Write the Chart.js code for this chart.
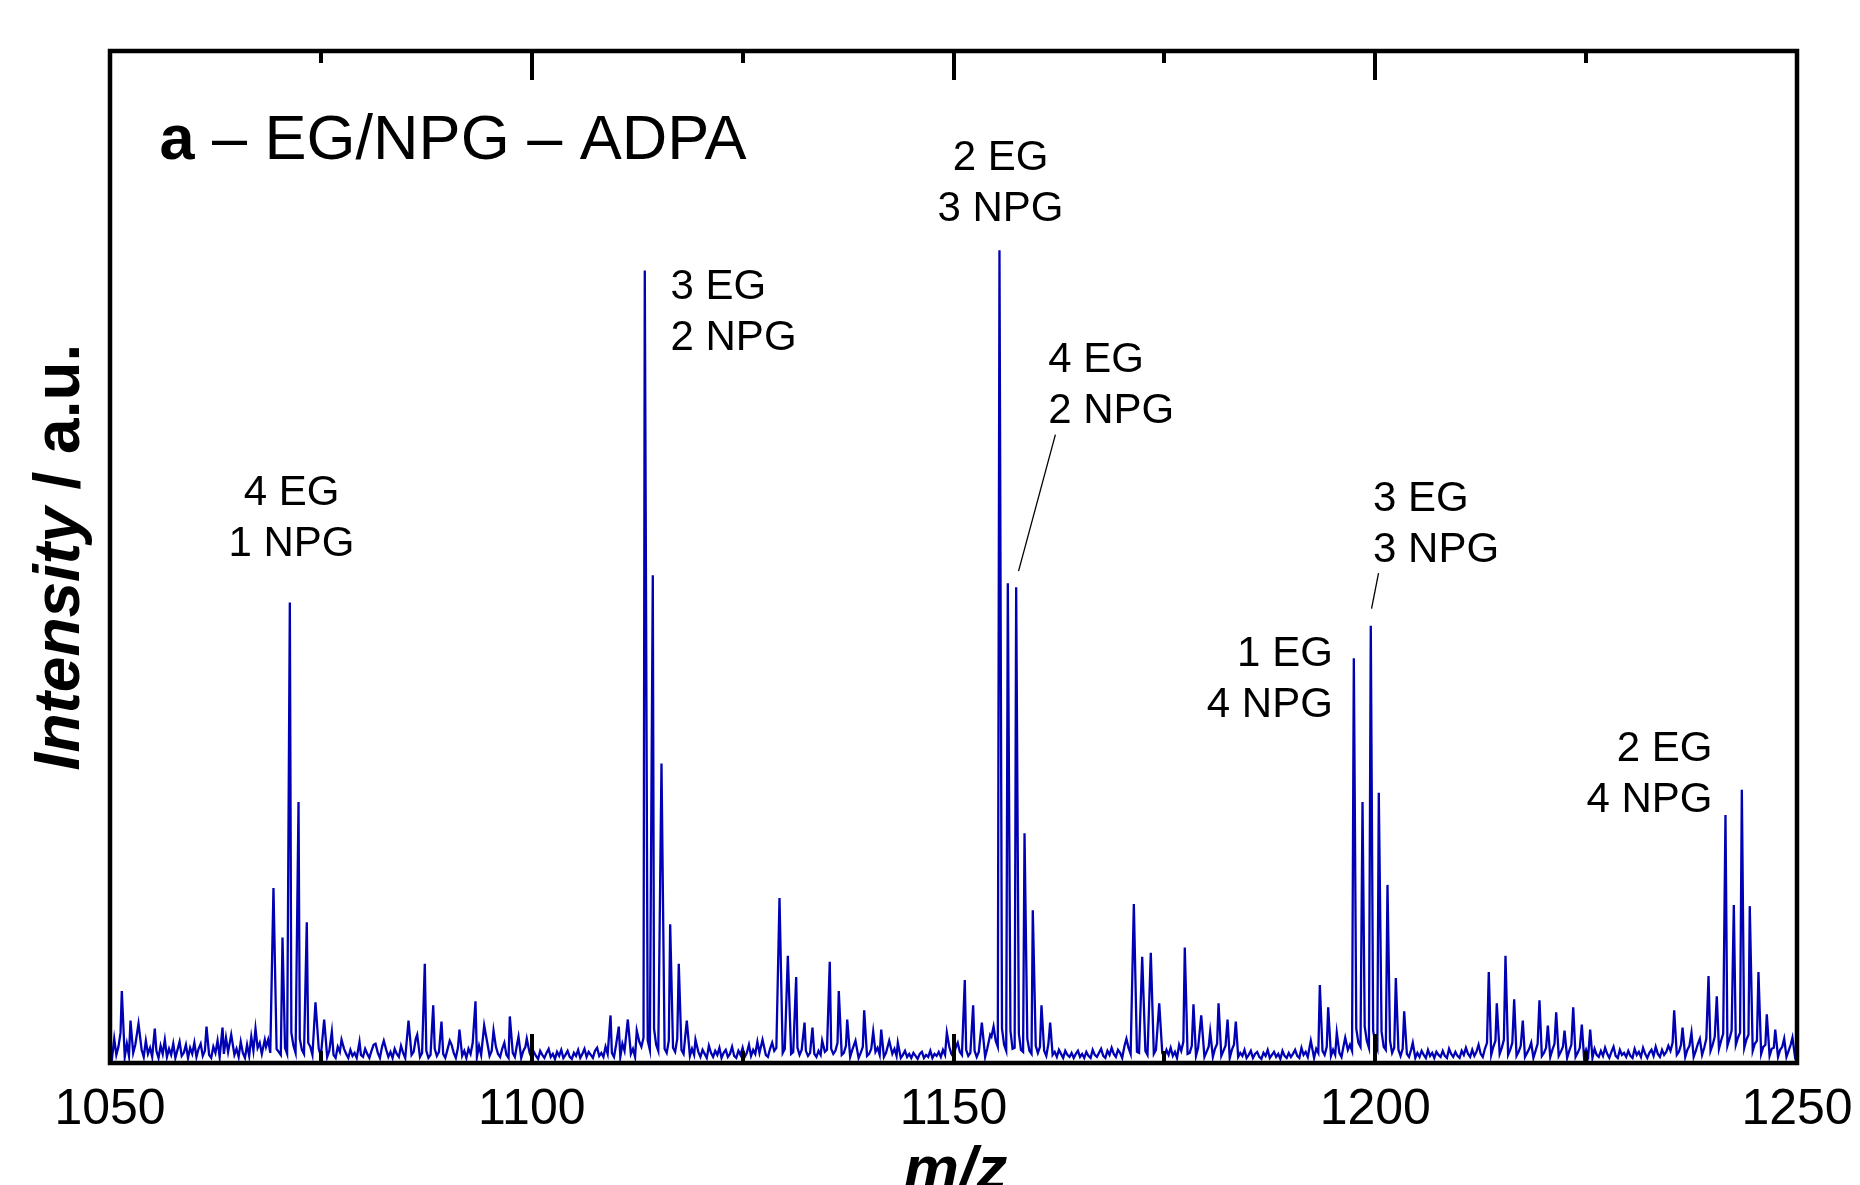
<!DOCTYPE html>
<html>
<head>
<meta charset="utf-8">
<title>EG/NPG – ADPA</title>
<script src="https://cdn.jsdelivr.net/npm/chart.js@4.4.1/dist/chart.umd.min.js"></script>
<style>
  html, body { margin: 0; padding: 0; background: #fff; }
  #wrap { width: 1860px; height: 1185px; }
</style>
</head>
<body>
<div id="wrap"><canvas id="spectrum" width="1860" height="1185"></canvas></div>
<script>
// resolved peaks: apex m/z and intensity (% of full scale)
const peakMz = [
  1051.40, 1052.43, 1053.38, 1055.31, 1061.44, 1063.34, 1064.37, 1067.25, 1068.35,
  1069.38, 1070.45, 1071.32, 1072.35, 1073.33, 1074.36, 1075.39, 1076.30, 1077.45,
  1079.58, 1081.48, 1082.46, 1085.39, 1086.42, 1087.32, 1088.32, 1089.30, 1090.28,
  1091.43, 1093.33, 1094.36, 1095.47, 1097.40, 1098.43, 1099.41,
  1109.34, 1110.32, 1111.39, 1112.45, 1113.40, 1114.35, 1115.38, 1116.41, 1117.43, 1118.38, 1119.41,
  1127.36, 1129.37, 1130.36, 1131.35, 1132.34, 1133.28, 1134.43, 1135.33, 1136.40, 1137.40,
  1138.38, 1139.41, 1140.48, 1141.43, 1142.38, 1143.40, 1149.21,
  1151.34, 1152.33, 1153.36, 1154.35, 1155.45, 1156.44, 1157.43, 1158.42, 1159.40, 1160.43, 1161.46,
  1171.38, 1172.37, 1173.39, 1174.39, 1177.42, 1178.45, 1179.37, 1180.43, 1181.42, 1182.49, 1183.47,
  1192.36, 1193.43, 1194.42, 1195.44, 1196.44, 1197.46, 1198.49, 1199.47, 1200.42, 1201.45,
  1202.44, 1203.43, 1204.45,
  1213.46, 1214.41, 1215.44, 1216.47, 1217.49, 1218.49, 1219.47, 1220.46, 1221.45, 1222.44,
  1223.47, 1224.49, 1225.48,
  1235.44, 1236.43, 1237.49, 1238.48, 1239.51, 1240.49, 1241.52, 1242.51, 1243.46, 1244.40,
  1245.43, 1246.42, 1247.42, 1248.48, 1249.46
];
const peakIntensity = [
  7.1, 4.2, 3.9, 3.4, 3.6, 3.5, 2.8, 3.4, 2.3,
  17.3, 12.4, 45.5, 25.8, 13.9, 6.0, 4.3, 3.1, 2.3,
  2.1, 1.9, 2.2, 4.2, 2.8, 9.8, 5.7, 4.1, 2.2,
  3.3, 6.1, 3.7, 3.2, 4.6, 2.6, 2.4,
  4.7, 3.6, 4.3, 3.2, 78.3, 48.2, 29.6, 13.7, 9.8, 4.2, 2.3,
  2.3, 16.3, 10.6, 8.5, 4.0, 3.5, 2.2, 10.0, 7.1, 4.3,
  2.2, 5.2, 3.1, 3.3, 2.2, 2.0, 3.0,
  8.2, 5.7, 4.0, 2.8, 80.3, 47.4, 47.0, 22.7, 15.1, 5.7, 4.0,
  15.7, 10.5, 10.9, 5.9, 11.4, 5.8, 4.7, 3.1, 5.9, 4.3, 4.1,
  2.2, 7.7, 5.5, 3.0, 2.5, 40.0, 25.8, 43.2, 26.7, 17.6,
  8.4, 5.1, 2.0,
  9.0, 5.9, 10.6, 6.3, 4.2, 2.0, 6.2, 3.7, 5.0, 3.2,
  5.5, 3.8, 3.3,
  5.2, 3.5, 3.0, 2.4, 8.6, 6.6, 24.5, 15.6, 27.0, 15.5,
  9.0, 4.8, 3.3, 2.4, 2.5
];

// baseline noise, one row per 5 m/z starting at 1050, a value every 0.25 m/z
const noiseRows = [
  [1.2, 0.5, 2.4, 0.8, 1.6, 3.0, 1.1, 0.6, 1.9, 0.7, 2.6, 1.0, 1.8, 0.5, 2.9, 1.3, 0.6, 2.2, 0.9, 1.5],
  [0.6, 2.0, 1.2, 0.5, 1.7, 0.9, 2.3, 0.6, 1.4, 0.8, 1.9, 0.5, 1.3, 2.1, 0.7, 1.0, 1.8, 0.5, 1.5, 0.9],
  [2.0, 0.6, 1.4, 1.9, 0.7, 1.2, 2.4, 0.8, 0.5, 1.6, 1.0, 2.2, 0.6, 1.3, 0.9, 2.5, 1.1, 0.5, 1.7, 0.8],
  [1.4, 0.6, 2.1, 1.0, 0.5, 1.8, 0.7, 2.6, 1.2, 0.6, 1.5, 2.0, 0.9, 0.5, 1.6, 2.3, 1.0, 0.7, 2.2, 1.4],
  [1.1, 0.8, 2.5, 1.5, 0.9, 1.2, 3.0, 1.7, 1.0, 0.7, 2.4, 1.3, 0.9, 0.6, 2.0, 1.6, 0.8, 0.6, 2.8, 1.4],
  [0.7, 2.6, 1.5, 0.6, 1.2, 2.0, 0.8, 0.5, 1.6, 1.1, 0.6, 1.4, 0.9, 0.5, 1.3, 0.7, 1.0, 0.5, 1.5, 0.8],
  [0.6, 1.4, 0.9, 0.5, 1.2, 1.8, 0.7, 1.0, 0.5, 1.6, 0.8, 1.3, 0.6, 1.1, 0.5, 1.4, 0.9, 0.6, 1.7, 1.0],
  [0.5, 1.2, 2.0, 0.8, 1.1, 2.4, 0.9, 0.6, 1.0, 1.9, 1.2, 0.5, 0.8, 2.6, 1.4, 0.7, 1.1, 2.0, 0.9, 0.5],
  [1.3, 0.6, 1.8, 1.0, 0.5, 1.5, 2.1, 0.7, 1.2, 0.5, 1.4, 0.9, 2.0, 1.1, 0.6, 1.7, 0.8, 0.5, 1.3, 1.9],
  [0.7, 1.2, 0.5, 1.6, 0.9, 0.6, 1.4, 2.0, 0.8, 0.5, 1.5, 1.0, 0.6, 1.8, 0.9, 0.5, 1.2, 1.6, 0.7, 1.0],
  [0.5, 1.1, 0.7, 0.4, 1.2, 0.8, 0.5, 1.0, 1.4, 0.6, 0.9, 0.4, 1.1, 0.7, 1.3, 0.5, 0.8, 1.2, 0.6, 0.4],
  [1.0, 0.7, 1.3, 0.5, 0.9, 1.4, 0.6, 1.1, 0.8, 0.5, 1.2, 1.5, 0.7, 1.0, 0.6, 1.6, 0.9, 2.2, 1.0, 0.6],
  [1.8, 0.8, 0.6, 1.9, 1.2, 0.7, 2.0, 0.9, 1.4, 0.6, 1.1, 2.1, 1.6, 2.5, 3.0, 2.2, 1.3, 2.8, 3.4, 1.8],
  [1.2, 2.6, 2.9, 1.4, 1.0, 2.2, 3.2, 1.5, 1.1, 2.4, 2.8, 1.3, 0.9, 1.9, 1.6, 0.7, 1.4, 0.8, 2.0, 1.1],
  [0.6, 1.3, 0.9, 0.5, 1.7, 1.0, 0.6, 1.2, 0.8, 1.5, 0.5, 1.0, 1.3, 0.6, 0.9, 1.6, 0.7, 0.5, 1.2, 0.8],
  [1.5, 0.6, 1.0, 1.8, 0.7, 1.3, 0.9, 2.1, 1.0, 0.6, 1.2, 0.8, 0.6, 1.4, 2.0, 1.2, 1.5, 2.4, 1.8, 1.0],
  [1.4, 2.2, 1.6, 0.9, 1.1, 2.0, 1.5, 0.8, 1.3, 1.9, 1.2, 0.7, 1.0, 1.6, 0.9, 0.6, 1.2, 0.8, 1.5, 1.1],
  [1.3, 2.1, 1.4, 0.9, 1.2, 2.0, 1.5, 0.8, 1.0, 1.7, 0.9, 0.6, 1.3, 0.8, 1.1, 0.5, 1.0, 1.6, 1.2, 0.7],
  [0.9, 1.4, 0.6, 1.1, 1.5, 0.8, 1.2, 0.6, 1.0, 1.3, 0.5, 0.9, 1.4, 0.7, 1.1, 0.5, 0.8, 1.2, 0.6, 0.9],
  [0.5, 1.0, 0.7, 0.4, 0.9, 1.1, 0.5, 0.8, 0.6, 1.2, 0.5, 0.9, 0.7, 1.1, 0.6, 1.3, 0.8, 1.0, 1.6, 0.9],
  [0.6, 1.5, 2.0, 1.1, 0.8, 2.1, 1.3, 0.7, 1.0, 1.8, 1.2, 0.6, 1.1, 1.6, 0.8, 0.6, 1.4, 1.0, 2.6, 3.6],
  [2.2, 1.6, 3.0, 3.4, 1.8, 1.2, 2.8, 3.2, 1.4, 1.5, 2.5, 2.9, 1.3, 1.1, 2.6, 2.4, 1.2, 0.9, 2.0, 1.7],
  [1.0, 1.6, 2.0, 1.2, 0.7, 1.9, 1.3, 0.8, 1.1, 0.6, 1.3, 0.9, 0.5, 1.2, 0.8, 0.6, 1.0, 0.5, 0.9, 1.2],
  [0.6, 0.9, 0.5, 1.1, 0.7, 0.5, 1.3, 0.8, 0.6, 1.0, 1.4, 0.7, 0.5, 1.2, 0.8, 1.5, 0.9, 0.6, 1.3, 1.0],
  [0.5, 1.6, 2.4, 1.5, 0.9, 2.0, 2.2, 1.1, 1.0, 2.6, 2.0, 1.2, 0.8, 1.9, 1.5, 0.9, 1.3, 0.7, 1.4, 1.0],
  [0.6, 1.3, 0.8, 1.5, 0.7, 1.1, 0.5, 1.8, 1.2, 2.1, 1.4, 0.9, 1.0, 1.7, 1.2, 0.7, 1.5, 0.9, 1.3, 0.6],
  [1.1, 1.6, 0.8, 0.6, 1.4, 1.9, 1.0, 0.7, 1.2, 1.7, 0.9, 0.5, 1.3, 1.8, 0.8, 0.6, 1.0, 0.7, 1.3, 0.5],
  [0.8, 1.2, 0.5, 0.9, 1.1, 0.6, 0.4, 1.0, 0.7, 1.3, 0.5, 0.8, 1.1, 0.6, 0.9, 0.4, 1.2, 0.7, 0.5, 1.0],
  [0.6, 0.9, 1.3, 0.7, 0.5, 1.5, 0.8, 1.1, 0.6, 1.2, 0.9, 0.5, 1.4, 1.0, 2.0, 1.2, 0.8, 1.6, 1.1, 0.7],
  [1.3, 0.8, 1.5, 1.0, 0.6, 1.7, 2.4, 1.3, 1.8, 1.2, 2.6, 3.4, 2.0, 1.6, 3.0, 3.6, 2.2, 1.5, 2.8, 3.2],
  [2.0, 1.4, 3.0, 3.1, 1.6, 1.3, 2.6, 2.2, 1.0, 1.5, 2.4, 1.3, 0.7, 1.4, 1.9, 0.9, 0.6, 1.3, 1.0, 0.5],
  [1.0, 0.6, 1.2, 0.8, 0.5, 1.3, 0.7, 1.0, 0.5, 1.1, 0.8, 0.6, 1.2, 0.7, 0.5, 1.4, 0.9, 0.6, 1.1, 0.7],
  [0.5, 1.2, 0.8, 1.5, 0.9, 0.6, 1.3, 0.7, 1.1, 1.8, 0.9, 0.6, 1.4, 2.0, 1.2, 0.8, 1.6, 2.2, 1.3, 0.9],
  [1.5, 2.3, 1.4, 0.8, 1.3, 2.0, 1.2, 0.7, 1.1, 1.7, 0.9, 0.6, 1.0, 1.4, 0.7, 0.5, 1.2, 1.9, 1.1, 0.7],
  [1.0, 1.5, 0.8, 0.6, 1.3, 1.9, 1.0, 0.7, 1.1, 1.6, 0.9, 0.5, 1.2, 1.8, 1.0, 0.6, 1.0, 1.5, 0.8, 0.6],
  [1.3, 0.7, 1.0, 0.5, 1.4, 0.8, 0.6, 1.2, 0.7, 1.5, 0.9, 0.5, 1.1, 1.6, 0.7, 0.5, 1.3, 0.8, 1.0, 0.6],
  [1.2, 0.7, 0.5, 1.4, 0.8, 1.1, 0.6, 1.5, 0.9, 0.5, 1.0, 1.3, 0.7, 1.6, 0.9, 0.6, 1.3, 0.8, 1.1, 1.7],
  [1.2, 2.0, 1.4, 0.8, 1.1, 1.8, 1.0, 0.6, 1.3, 1.7, 0.9, 0.6, 1.2, 1.9, 1.0, 0.8, 1.5, 2.4, 1.6, 1.2],
  [1.8, 2.6, 1.5, 1.4, 2.2, 2.9, 1.6, 1.7, 2.4, 3.2, 2.0, 1.8, 2.5, 3.0, 1.7, 1.5, 2.3, 2.8, 1.4, 1.2],
  [1.9, 2.2, 1.2, 0.9, 1.6, 1.8, 0.8, 0.7, 1.4, 1.5, 0.7, 0.6, 1.3, 1.6, 0.9, 0.6, 1.2, 1.8, 1.0, 0.7],
  [1.2]
];

const majorTicks = [1050, 1100, 1150, 1200, 1250];
const minorTicks = [1075, 1125, 1175, 1225];

// peak assignments: text lines, anchor (m/z, intensity of first baseline), alignment
const assignments = [
  { lines: ['4 EG', '1 NPG'], mz: 1071.52, at: 55.1, align: 'center' },
  { lines: ['3 EG', '2 NPG'], mz: 1116.45, at: 75.5, align: 'left' },
  { lines: ['2 EG', '3 NPG'], mz: 1155.57, at: 88.2, align: 'center' },
  { lines: ['4 EG', '2 NPG'], mz: 1161.23, at: 68.3, align: 'left' },
  { lines: ['3 EG', '3 NPG'], mz: 1199.74, at: 54.5, align: 'left' },
  { lines: ['1 EG', '4 NPG'], mz: 1194.97, at: 39.2, align: 'right' },
  { lines: ['2 EG', '4 NPG'], mz: 1239.98, at: 29.8, align: 'right' }
];
const leaders = [
  { from: [1162.08, 62.1], to: [1157.71, 48.6] },
  { from: [1200.39, 48.4], to: [1199.56, 44.9] }
];

const FONT = '"Liberation Sans", Arial, Helvetica, sans-serif';

function buildSpectrum() {
  const pts = [];
  noiseRows.forEach((row, r) => {
    row.forEach((v, j) => {
      const mz = 1050 + r * 5 + j * 0.25;
      // keep the apex clean: drop baseline samples sitting right on a peak
      const onPeak = peakMz.some(p => Math.abs(p - mz) < 0.15);
      if (!onPeak) pts.push({ x: mz, y: v });
    });
  });
  peakMz.forEach((mz, i) => pts.push({ x: mz, y: peakIntensity[i] }));
  pts.sort((a, b) => a.x - b.x);
  return pts;
}

const framePlugin = {
  id: 'frame',
  afterDatasetsDraw(chart) {
    const { ctx, chartArea: a, scales: { x, y } } = chart;
    ctx.save();
    ctx.strokeStyle = '#000';
    ctx.fillStyle = '#000';

    // inward ticks on top and bottom edges
    ctx.lineWidth = 4;
    const tick = (v, len) => {
      const px = Math.round(x.getPixelForValue(v));
      ctx.beginPath();
      ctx.moveTo(px, a.top);
      ctx.lineTo(px, a.top + len);
      ctx.moveTo(px, a.bottom);
      ctx.lineTo(px, a.bottom - len);
      ctx.stroke();
    };
    majorTicks.filter(v => v > x.min && v < x.max).forEach(v => tick(v, 29));
    minorTicks.forEach(v => tick(v, 12));

    ctx.lineWidth = 4.5;
    ctx.strokeRect(a.left, a.top, a.right - a.left, a.bottom - a.top);

    // panel title
    const tx = x.getPixelForValue(1055.87);
    const ty = y.getPixelForValue(89.3);
    ctx.textAlign = 'left';
    ctx.textBaseline = 'alphabetic';
    ctx.font = `bold 63px ${FONT}`;
    ctx.fillText('a', tx, ty);
    const wa = ctx.measureText('a').width;
    ctx.font = `63px ${FONT}`;
    ctx.fillText(' – EG/NPG – ADPA', tx + wa, ty);

    // peak assignments
    ctx.font = `42px ${FONT}`;
    assignments.forEach(s => {
      ctx.textAlign = s.align;
      const px = x.getPixelForValue(s.mz);
      const py = y.getPixelForValue(s.at);
      s.lines.forEach((t, i) => ctx.fillText(t, px, py + i * 51));
    });
    ctx.lineWidth = 1.3;
    leaders.forEach(l => {
      ctx.beginPath();
      ctx.moveTo(x.getPixelForValue(l.from[0]), y.getPixelForValue(l.from[1]));
      ctx.lineTo(x.getPixelForValue(l.to[0]), y.getPixelForValue(l.to[1]));
      ctx.stroke();
    });

    // y title: Intensity / a.u.
    ctx.save();
    ctx.translate(79, (a.top + a.bottom) / 2);
    ctx.rotate(-Math.PI / 2);
    ctx.textAlign = 'left';
    ctx.font = `italic bold 64px ${FONT}`;
    const w1 = ctx.measureText('Intensity').width;
    ctx.font = `bold 64px ${FONT}`;
    const w2 = ctx.measureText(' / a.u.').width;
    const sx = -(w1 + w2) / 2;
    ctx.font = `italic bold 64px ${FONT}`;
    ctx.fillText('Intensity', sx, 0);
    ctx.font = `bold 64px ${FONT}`;
    ctx.fillText(' / a.u.', sx + w1, 0);
    ctx.restore();

    // x title, partly cut by the bottom edge as in the original
    ctx.textAlign = 'center';
    ctx.font = `italic bold 62px ${FONT}`;
    ctx.fillText('m/z', (a.left + a.right) / 2 + 2, 1189);

    ctx.restore();
  }
};

const ctx = document.getElementById('spectrum').getContext('2d');
new Chart(ctx, {
  type: 'line',
  data: {
    datasets: [{
      data: buildSpectrum(),
      borderColor: '#0000b4',
      borderWidth: 2.3,
      pointRadius: 0,
      tension: 0,
      fill: false
    }]
  },
  options: {
    responsive: false,
    animation: false,
    parsing: false,
    layout: { padding: { top: 51, right: 63, left: 0, bottom: 0 } },
    plugins: { legend: { display: false }, tooltip: { enabled: false } },
    scales: {
      x: {
        type: 'linear',
        min: 1050,
        max: 1250,
        afterBuildTicks: s => { s.ticks = majorTicks.map(v => ({ value: v })); },
        afterFit: s => {
          s.height = 122;
          // end labels overhang into the margins, don't let them shrink the plot
          s.paddingLeft = 0;
          s.paddingRight = 0;
        },
        ticks: {
          font: { family: FONT, size: 50 },
          color: '#000',
          padding: 17,
          maxRotation: 0,
          autoSkip: false,
          callback: v => String(v)
        },
        grid: { display: false, drawTicks: false },
        border: { display: false }
      },
      y: {
        min: 0,
        max: 100,
        afterFit: s => { s.width = 110; },
        ticks: { display: false },
        grid: { display: false, drawTicks: false },
        border: { display: false }
      }
    }
  },
  plugins: [framePlugin]
});
</script>
</body>
</html>
